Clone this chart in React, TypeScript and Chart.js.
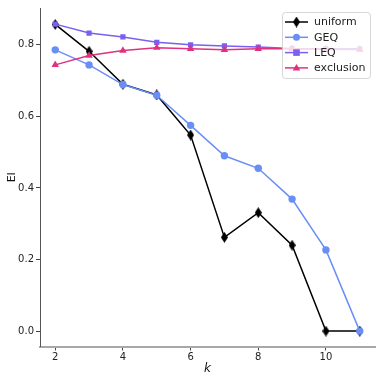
import React, { useEffect, useRef } from "react";
import { Chart, registerables } from "chart.js";

Chart.register(...registerables);

const kValues = [2, 3, 4, 5, 6, 7, 8, 9, 10, 11];
const uniform = [0.857, 0.782, 0.69, 0.66, 0.548, 0.262, 0.331, 0.24, 0.0, 0.0];
const geq = [0.786, 0.744, 0.689, 0.659, 0.575, 0.49, 0.455, 0.369, 0.227, 0.0];
const leq = [0.858, 0.833, 0.822, 0.807, 0.8, 0.797, 0.794, 0.79, 0.789, 0.789];
const exclusion = [0.744, 0.77, 0.784, 0.792, 0.789, 0.786, 0.789, 0.789, 0.788, 0.787];
const xTicks = [2, 4, 6, 8, 10];
const yTicks = [0, 0.2, 0.4, 0.6, 0.8];

const seriesNames = ["uniform", "GEQ", "LEQ", "exclusion"];
const colors = ["#000000", "#6a8ef7", "#7b5ff0", "#e0317f"];

function makeDiamond(color: string) {
  const c = document.createElement("canvas");
  c.width = 7;
  c.height = 11;
  const ctx = c.getContext("2d")!;
  ctx.fillStyle = color;
  ctx.beginPath();
  ctx.moveTo(3.5, 0);
  ctx.lineTo(7, 5.5);
  ctx.lineTo(3.5, 11);
  ctx.lineTo(0, 5.5);
  ctx.closePath();
  ctx.fill();
  return c;
}

export default function App() {
  const ref = useRef<HTMLCanvasElement>(null);
  useEffect(() => {
    document.body.style.margin = "0";
    const diamond = makeDiamond("#000000");
    const styles: any[] = [diamond, "circle", "rect", "triangle"];
    const radii = [4, 3.7, 3.7, 4.3];
    const data = [uniform, geq, leq, exclusion];

    const legendPlugin = {
      id: "customLegend",
      afterDraw(chart: any) {
        const ctx = chart.ctx as CanvasRenderingContext2D;
        ctx.save();
        const x0 = 282, y0 = 12, w = 88, h = 66;
        ctx.fillStyle = "rgba(255,255,255,0.8)";
        ctx.strokeStyle = "rgba(204,204,204,0.8)";
        ctx.lineWidth = 1;
        ctx.beginPath();
        (ctx as any).roundRect(x0 + 0.5, y0 + 0.5, w, h, 3);
        ctx.fill();
        ctx.stroke();
        ctx.font = "11px 'DejaVu Sans'";
        ctx.textBaseline = "middle";
        for (let i = 0; i < 4; i++) {
          const y = 22 + i * 15.3;
          ctx.strokeStyle = colors[i];
          ctx.lineWidth = 1.5;
          ctx.beginPath();
          ctx.moveTo(285, y);
          ctx.lineTo(308, y);
          ctx.stroke();
          ctx.fillStyle = colors[i];
          const cx = 296.5;
          ctx.beginPath();
          if (i === 0) {
            ctx.drawImage(diamond, cx - 3.5, y - 5.5);
          } else if (i === 1) {
            ctx.arc(cx, y, 3.5, 0, Math.PI * 2);
            ctx.fill();
          } else if (i === 2) {
            ctx.rect(cx - 3.3, y - 3.3, 6.6, 6.6);
            ctx.fill();
          } else {
            ctx.moveTo(cx, y - 4);
            ctx.lineTo(cx + 3.8, y + 2.6);
            ctx.lineTo(cx - 3.8, y + 2.6);
            ctx.closePath();
            ctx.fill();
          }
          ctx.fillStyle = "#222";
          ctx.fillText(seriesNames[i], 314, y + 0.5);
        }
        ctx.restore();
      },
    };

    const chart = new Chart(ref.current!, {
      type: "line",
      data: {
        datasets: data.map((arr, i) => ({
          label: seriesNames[i],
          data: kValues.map((k, j) => ({ x: k, y: arr[j] })),
          borderColor: colors[i],
          backgroundColor: colors[i],
          borderWidth: 1.5,
          pointStyle: styles[i],
          pointRadius: radii[i],
          pointBorderWidth: 0,
          pointBackgroundColor: colors[i],
          tension: 0,
          order: 4 - i,
        })),
      },
      options: {
        animation: false,
        responsive: false,
        devicePixelRatio: 1,
        layout: { padding: { top: 7, right: 7, left: 0, bottom: 0 } },
        plugins: { legend: { display: false }, tooltip: { enabled: false } },
        scales: {
          x: {
            type: "linear",
            min: 1.55,
            max: 11.45,
            afterBuildTicks: (s: any) => {
              s.ticks = xTicks.map((v) => ({ value: v }));
            },
            afterFit: (s: any) => {
              s.height = 35.5;
            },
            grid: { drawOnChartArea: false, drawTicks: true, tickLength: 4, tickColor: "#444" },
            border: { color: "#a8a8a8", width: 2 },
            ticks: { color: "#222", font: { family: "DejaVu Sans", size: 10 }, padding: 1, maxRotation: 0 },
            title: {
              display: true,
              text: "k",
              color: "#111",
              font: { family: "DejaVu Sans", size: 12, style: "italic" },
              padding: { top: 0, bottom: 6 },
            },
          },
          y: {
            type: "linear",
            min: -0.043,
            max: 0.903,
            afterBuildTicks: (s: any) => {
              s.ticks = yTicks.map((v) => ({ value: v }));
            },
            afterFit: (s: any) => {
              s.width = 40;
            },
            grid: { drawOnChartArea: false, drawTicks: true, tickLength: 4, tickColor: "#444" },
            border: { color: "#555", width: 1 },
            ticks: {
              color: "#222",
              font: { family: "DejaVu Sans", size: 10 },
              padding: 2,
              callback: (v: any) => Number(v).toFixed(1),
            },
            title: {
              display: true,
              text: "EI",
              color: "#111",
              font: { family: "DejaVu Sans", size: 11 },
              padding: { top: 6, bottom: 0 },
            },
          },
        },
      },
      plugins: [legendPlugin],
    } as any);
    return () => chart.destroy();
  }, []);
  return (
    <div style={{ position: "fixed", left: 0, top: 0, width: 382, height: 382 }}>
      <canvas ref={ref} width={382} height={382} style={{ width: 382, height: 382 }} />
    </div>
  );
}
